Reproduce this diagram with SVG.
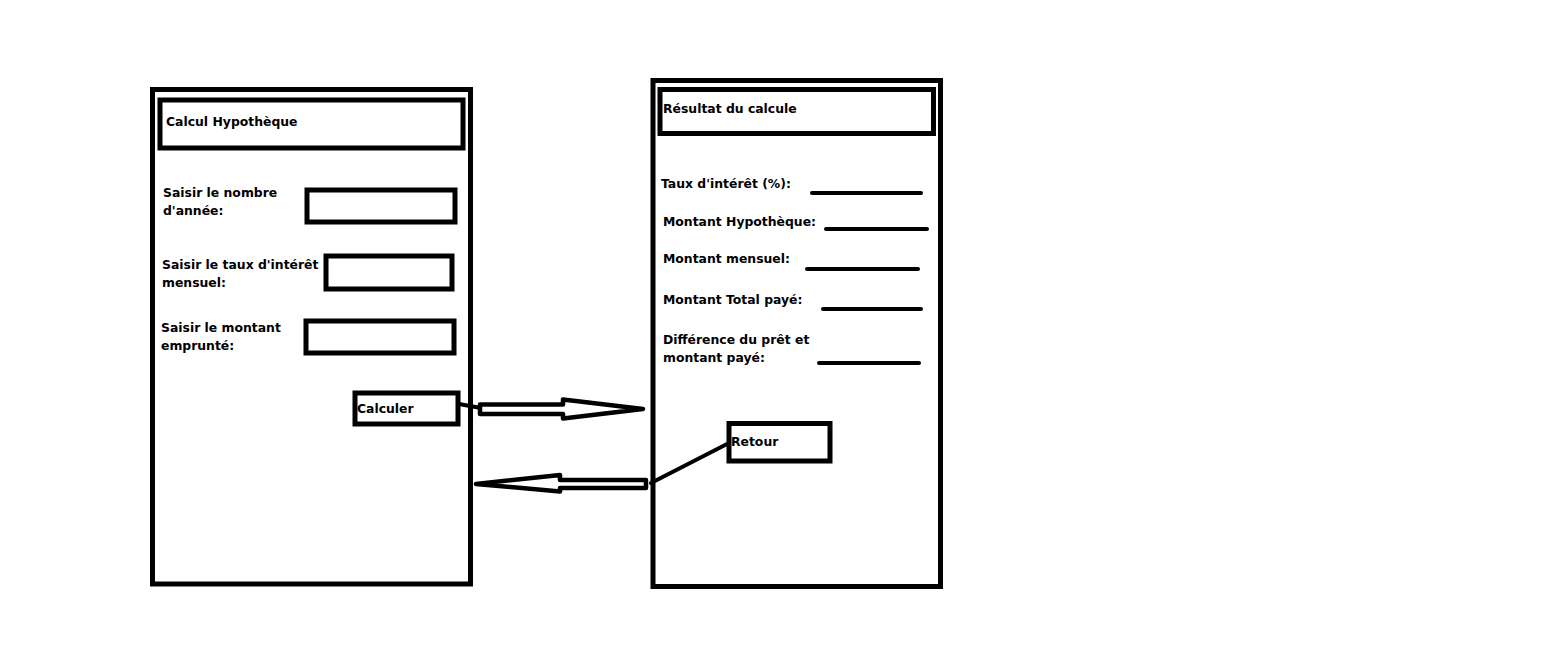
<svg xmlns="http://www.w3.org/2000/svg" width="1559" height="663" viewBox="0 0 1559 663">
<style>
.box{fill:none;stroke:#000;stroke-width:5}
.in{fill:#fff;stroke:#000;stroke-width:5}
.ln{stroke:#000;stroke-width:4;stroke-linecap:round;fill:none}
.arr{fill:#fff;stroke:#000;stroke-width:4.5;stroke-linejoin:round}
text{font-family:"DejaVu Sans","Liberation Sans",sans-serif;font-weight:bold;font-size:12.4px;fill:#000}
</style>
<rect width="1559" height="663" fill="#fff"/>
<g id="ecran-calcul">
<rect class="box" x="152.5" y="89.5" width="318" height="494.5"/>
<g id="titre-calcul">
<rect class="box" x="160" y="100" width="303" height="48"/>
<text x="166" y="126">Calcul Hypothèque</text>
</g>
<g id="champ-annees">
<text x="163" y="197">Saisir le nombre</text>
<text x="163" y="215">d'année:</text>
<rect class="in" x="307" y="190" width="148" height="32"/>
</g>
<g id="champ-taux">
<text x="162" y="269">Saisir le taux d'intérêt</text>
<text x="162" y="287">mensuel:</text>
<rect class="in" x="326" y="256" width="126" height="33"/>
</g>
<g id="champ-montant">
<text x="161" y="332">Saisir le montant</text>
<text x="161" y="350">emprunté:</text>
<rect class="in" x="306" y="321" width="148" height="32"/>
</g>
<g id="bouton-calculer">
<rect class="in" x="355" y="393" width="103" height="31"/>
<text x="357" y="413">Calculer</text>
</g>
</g>
<g id="ecran-resultat">
<rect class="box" x="653" y="80.5" width="287.5" height="506"/>
<g id="titre-resultat">
<rect class="box" x="660" y="89.5" width="273.5" height="44"/>
<text x="663" y="113">Résultat du calcule</text>
</g>
<g id="res-taux">
<text x="661" y="188">Taux d'intérêt (%):</text>
<line class="ln" x1="812" y1="193" x2="921" y2="193"/>
</g>
<g id="res-hypotheque">
<text x="663" y="226">Montant Hypothèque:</text>
<line class="ln" x1="826" y1="229" x2="927" y2="229"/>
</g>
<g id="res-mensuel">
<text x="663" y="263">Montant mensuel:</text>
<line class="ln" x1="807" y1="269" x2="918" y2="269"/>
</g>
<g id="res-total">
<text x="663" y="304">Montant Total payé:</text>
<line class="ln" x1="823" y1="309" x2="921" y2="309"/>
</g>
<g id="res-difference">
<text x="663" y="344">Différence du prêt et</text>
<text x="663" y="362">montant payé:</text>
<line class="ln" x1="819" y1="363" x2="919" y2="363"/>
</g>
<g id="bouton-retour">
<rect class="in" x="729" y="423.5" width="101" height="37.5"/>
<text x="731" y="446">Retour</text>
</g>
</g>
<g id="connecteurs">
<line class="ln" x1="459" y1="404" x2="481" y2="408"/>
<polygon class="arr" points="480,404.5 563,404.5 563,399.5 643,409 563,418.5 563,414 480,414"/>
<line class="ln" x1="729" y1="443" x2="651" y2="483"/>
<polygon class="arr" points="646,480 560,480 560,475 476,484 560,491.5 560,488 646,488"/>
</g>
</svg>
